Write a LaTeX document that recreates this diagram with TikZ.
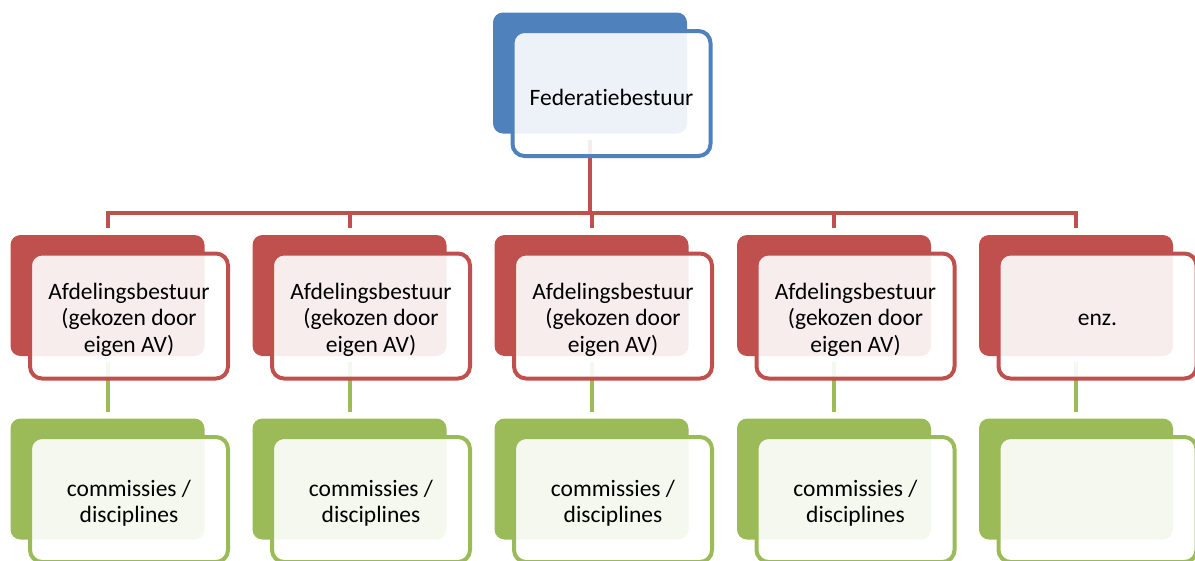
\documentclass[tikz,border=0pt]{standalone}
\usepackage{fontspec}
\setmainfont{Carlito}[Ligatures=NoCommon]
\definecolor{cblue}{HTML}{4F81BD}
\definecolor{cred}{HTML}{C0504D}
\definecolor{cgreen}{HTML}{9BBB59}
\pgfdeclarelayer{bg}
\pgfsetlayers{bg,main}
\tikzset{
  backbox/.style={rectangle, rounded corners=10pt, minimum width=194pt, minimum height=121pt, inner sep=0pt, fill=#1, draw=none},
  frontbox/.style={rectangle, rounded corners=12pt, minimum width=198pt, minimum height=125pt, inner sep=0pt, draw=#1, line width=4pt, fill=white, fill opacity=0.9},
  boxtext/.style={align=center, font=\fontsize{23.5}{26.5}\selectfont, fill opacity=1, text opacity=1, inner sep=0pt, yshift=-3.5pt},
  conn/.style={draw=#1, line width=4pt}
}
\begin{document}
\begin{tikzpicture}[x=1pt,y=-1pt]
\useasboundingbox (0,0) rectangle (1195,560);
\begin{scope}
\clip (0,0) rectangle (1195,560);
% top
\node[backbox=cblue] (tb) at (590,73) {};
\node[frontbox=cblue, label={[boxtext]center:Federatiebestuur}] (tf) at (611.5,93.5) {};
% rows
\foreach \i/\x in {1/107.5,2/349.5,3/591.5,4/834} {
  \node[backbox=cred] (rb\i) at (\x,295.5) {};
  \node[frontbox=cred, label={[boxtext]center:Afdelingsbestuur\\(gekozen door\\eigen AV)}] (rf\i) at (\x+21.5,316) {};
  \node[backbox=cgreen] (gb\i) at (\x,479) {};
  \node[frontbox=cgreen, label={[boxtext]center:commissies /\\disciplines}] (gf\i) at (\x+21.5,499.5) {};
}
\node[backbox=cred] (rb5) at (1076,295.5) {};
\node[frontbox=cred, label={[boxtext]center:enz.}] (rf5) at (1097.5,316) {};
\node[backbox=cgreen] (gb5) at (1076,479) {};
\node[frontbox=cgreen] (gf5) at (1097.5,499.5) {};
\end{scope}
\coordinate (bus) at (590,213);
\begin{pgfonlayer}{bg}
\draw[conn=cred] ([yshift=-6pt]tb.south) -- (tb.south |- bus);
\draw[conn=cred, line cap=rect] (rb1.north |- bus) -- (rb5.north |- bus);
\foreach \i in {1,...,5} {
  \draw[conn=cred] (rb\i.north |- bus) -- ([yshift=7pt]rb\i.north);
  \draw[conn=cgreen] ([yshift=-6pt]rb\i.south) -- ([yshift=6pt]gb\i.north);
}
\end{pgfonlayer}
\end{tikzpicture}
\end{document}
